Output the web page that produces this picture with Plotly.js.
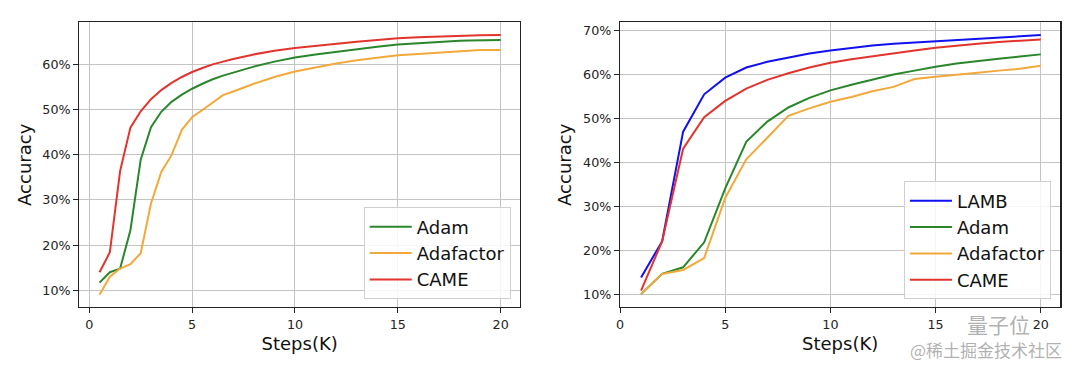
<!DOCTYPE html>
<html>
<head>
<meta charset="utf-8">
<script src="https://cdn.plot.ly/plotly-3.0.1.min.js"></script>
<style>html,body{margin:0;padding:0;background:#fff;}#chart{width:1080px;height:372px;}</style>
</head>
<body>
<div id="chart"></div>
<script>
// ---- Left panel data ----
const leftSteps = [0.5,1,1.5,2,2.5,3,3.5,4,4.5,5,5.5,6,6.5,7,8,9,10,11,12,13,14,15,16,17,18,18.5,19,20];
const leftAdam = [11.7,14.0,14.8,23.3,38.9,46.1,49.5,51.7,53.3,54.6,55.7,56.7,57.5,58.2,59.5,60.6,61.5,62.2,62.8,63.4,63.9,64.4,64.7,65.0,65.2,65.25,65.3,65.4];
const leftAdafactor = [9.0,13.0,14.8,15.8,18.2,29.2,36.2,39.9,45.5,48.3,49.9,51.6,53.2,54.0,55.7,57.2,58.4,59.3,60.2,60.9,61.5,62.0,62.3,62.6,62.8,62.9,63.2,63.2];
const leftCame = [14.0,18.4,36.4,46.0,49.6,52.3,54.3,55.9,57.2,58.3,59.2,60.0,60.6,61.2,62.2,63.0,63.6,64.1,64.6,65.0,65.4,65.8,66.0,66.2,66.35,66.4,66.45,66.5];

// ---- Right panel data ----
const rightSteps = [1,2,3,4,5,6,7,8,9,10,11,12,13,14,15,16,17,18,19,20];
const rightLamb = [13.8,22.0,47.0,55.5,59.3,61.6,62.9,63.9,64.8,65.5,66.1,66.6,67.0,67.3,67.6,67.9,68.2,68.5,68.8,69.0];
const rightAdam = [10.0,14.6,16.1,21.8,34.1,44.7,49.3,52.5,54.7,56.4,57.7,58.9,60.0,60.9,61.8,62.5,63.1,63.6,64.1,64.6];
const rightAdafactor = [10.0,14.6,15.5,18.2,31.9,40.7,45.6,50.6,52.3,53.8,54.9,56.2,57.2,59.0,59.5,59.9,60.4,60.9,61.3,62.0];
const rightCame = [10.8,22.0,43.1,50.3,54.0,56.8,58.8,60.3,61.6,62.7,63.5,64.2,64.9,65.5,66.1,66.6,67.0,67.4,67.7,68.0];

const xTicks = [0,5,10,15,20];
const leftYTicks = [10,20,30,40,50,60];
const rightYTicks = [10,20,30,40,50,60,70];

const C = {LAMB:'#1010f0', Adam:'#2a862a', Adafactor:'#f2a93b', CAME:'#e2342c'};
const FONT = 'DejaVu Sans, Liberation Sans, sans-serif';

function tr(x, y, name, xa, ya, leg) {
  return {x:x, y:y, name:name, type:'scatter', mode:'lines', xaxis:xa, yaxis:ya, legend:leg,
          line:{color:C[name], width:2}, hoverinfo:'skip'};
}

const data = [
  tr(leftSteps, leftAdam, 'Adam', 'x', 'y', 'legend'),
  tr(leftSteps, leftAdafactor, 'Adafactor', 'x', 'y', 'legend'),
  tr(leftSteps, leftCame, 'CAME', 'x', 'y', 'legend'),
  tr(rightSteps, rightLamb, 'LAMB', 'x2', 'y2', 'legend2'),
  tr(rightSteps, rightAdam, 'Adam', 'x2', 'y2', 'legend2'),
  tr(rightSteps, rightAdafactor, 'Adafactor', 'x2', 'y2', 'legend2'),
  tr(rightSteps, rightCame, 'CAME', 'x2', 'y2', 'legend2')
];

function xax(domain, range) {
  return {domain:domain, range:range, tickmode:'array', tickvals:xTicks, ticktext:xTicks.map(String),
    ticks:'outside', ticklen:5, tickwidth:1, tickcolor:'#222',
    showgrid:true, gridcolor:'#c4c4c4', gridwidth:1, zeroline:false, showline:true, mirror:true,
    linecolor:'#222', linewidth:1.2, tickfont:{family:FONT, size:12.7, color:'#222'},
    title:{text:'Steps(K)', font:{family:FONT, size:18, color:'#111'}, standoff:6}, automargin:false};
}
function yax(domain, range, ticks, anchor) {
  return {domain:domain, range:range, anchor:anchor, tickmode:'array', tickvals:ticks,
    ticktext:ticks.map(v => v + '%'), ticks:'outside', ticklen:5, tickwidth:1, tickcolor:'#222',
    showgrid:true, gridcolor:'#c4c4c4', gridwidth:1, zeroline:false, showline:true, mirror:true,
    linecolor:'#222', linewidth:1.2, tickfont:{family:FONT, size:12.7, color:'#222'},
    title:{text:'Accuracy', font:{family:FONT, size:18, color:'#111'}, standoff:6}, automargin:false};
}
const yDom = [0.174, 0.94];
function leg(xr) {
  return {x:xr, y:0.195, xanchor:'right', yanchor:'bottom', xref:'paper', yref:'paper',
    bgcolor:'rgba(255,255,255,0.85)', bordercolor:'#d0d0d0', borderwidth:1,
    font:{family:FONT, size:18, color:'#111'}, itemwidth:42, tracegroupgap:0};
}

const layout = {
  width:1080, height:372, margin:{l:0, r:0, t:0, b:0},
  paper_bgcolor:'#fff', plot_bgcolor:'#fff', font:{family:FONT},
  xaxis: xax([0.0734, 0.4815], [-0.486, 20.94]),
  yaxis: yax(yDom, [6.24, 69.3], leftYTicks, 'x'),
  xaxis2: Object.assign(xax([0.5741, 0.9818], [0, 20.93]), {anchor:'y2'}),
  yaxis2: yax(yDom, [7.0, 71.9], rightYTicks, 'x2'),
  legend: leg(0.4729),
  legend2: leg(0.9731),
  showlegend:true,
  annotations:[
    {text:'量子位', x:998/1080, y:(372-324)/372, xref:'paper', yref:'paper', xanchor:'center', yanchor:'middle', showarrow:false,
     font:{family:'Noto Sans CJK SC', size:21, color:'rgba(150,150,150,0.75)'}},
    {text:'@稀土掘金技术社区', x:986/1080, y:(372-349)/372, xref:'paper', yref:'paper', xanchor:'center', yanchor:'middle', showarrow:false,
     font:{family:'Noto Sans CJK SC', size:17, color:'rgba(150,150,150,0.75)'}}
  ]
};

Plotly.newPlot('chart', data, layout, {staticPlot:true, displayModeBar:false});
</script>
</body>
</html>
